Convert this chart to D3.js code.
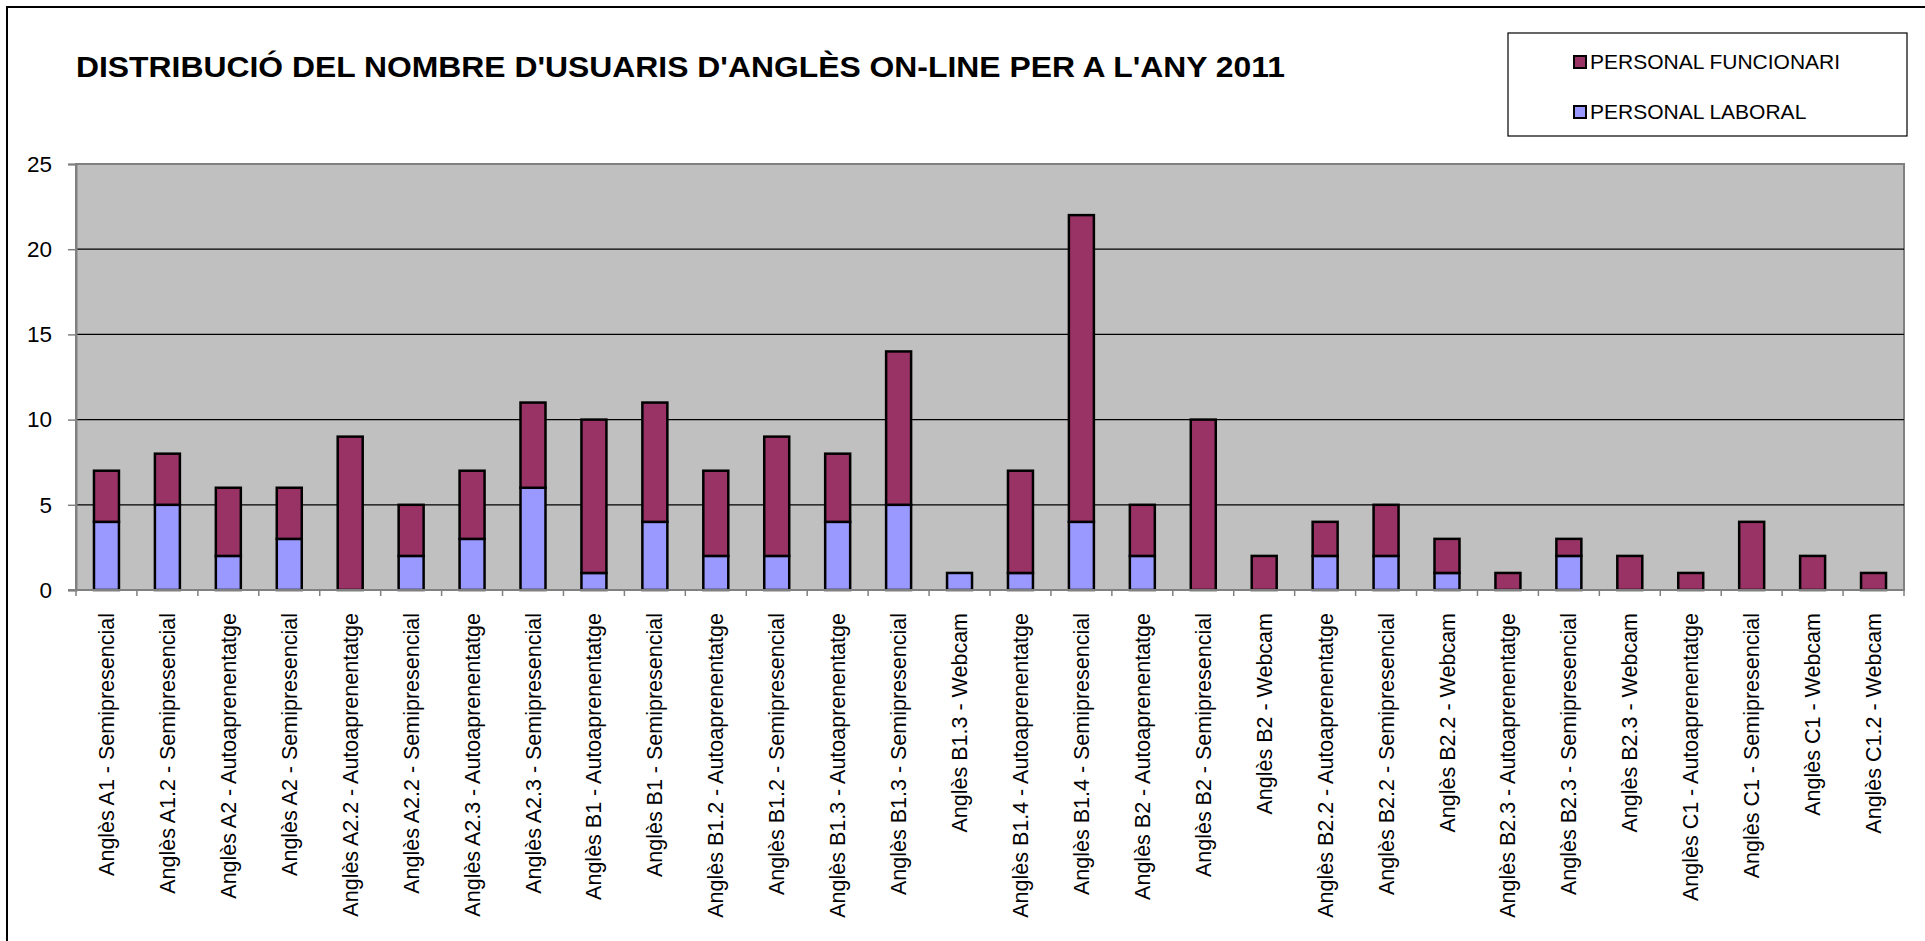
<!DOCTYPE html>
<meta charset="utf-8"/>
<style>
  body { margin: 0; background: #fff; }
  text { font-family: "Liberation Sans", Arial, sans-serif; }
</style>
<svg width="1925" height="941"></svg>
<script src="https://d3js.org/d3.v7.min.js"></script>
<script>

var cursos = [
  "Anglès A1 - Semipresencial", "Anglès A1.2 - Semipresencial", "Anglès A2 - Autoaprenentatge",
  "Anglès A2 - Semipresencial", "Anglès A2.2 - Autoaprenentatge", "Anglès A2.2 - Semipresencial",
  "Anglès A2.3 - Autoaprenentatge", "Anglès A2.3 - Semipresencial", "Anglès B1 - Autoaprenentatge",
  "Anglès B1 - Semipresencial", "Anglès B1.2 - Autoaprenentatge", "Anglès B1.2 - Semipresencial",
  "Anglès B1.3 - Autoaprenentatge", "Anglès B1.3 - Semipresencial", "Anglès B1.3 - Webcam",
  "Anglès B1.4 - Autoaprenentatge", "Anglès B1.4 - Semipresencial", "Anglès B2 - Autoaprenentatge",
  "Anglès B2 - Semipresencial", "Anglès B2 - Webcam", "Anglès B2.2 - Autoaprenentatge",
  "Anglès B2.2 - Semipresencial", "Anglès B2.2 - Webcam", "Anglès B2.3 - Autoaprenentatge",
  "Anglès B2.3 - Semipresencial", "Anglès B2.3 - Webcam", "Anglès C1 - Autoaprenentatge",
  "Anglès C1 - Semipresencial", "Anglès C1 - Webcam", "Anglès C1.2 - Webcam"
];

var laboral    = [4, 5, 2, 3, 0, 2, 3, 6, 1, 4, 2, 2, 4, 5, 1, 1, 4, 2, 0, 0, 2, 2, 1, 0, 2, 0, 0, 0, 0, 0];
var funcionari = [3, 3, 4, 3, 9, 3, 4, 5, 9, 7, 5, 7, 4, 9, 0, 6, 18, 3, 10, 2, 2, 3, 2, 1, 1, 2, 1, 4, 2, 1];

var yTicks = [0, 5, 10, 15, 20, 25];

var series = [
  {key: "laboral", name: "PERSONAL LABORAL", color: "#9999ff"},
  {key: "funcionari", name: "PERSONAL FUNCIONARI", color: "#993366"}
];

var svg = d3.select("svg"),
    plot = {left: 76, right: 1904, top: 164, bottom: 590};

var data = cursos.map(function(c, i) {
  return {curs: c, laboral: laboral[i], funcionari: funcionari[i]};
});

var x = d3.scaleBand()
    .domain(cursos)
    .range([plot.left, plot.right])
    .paddingInner(0.59)
    .paddingOuter(0.295);

var y = d3.scaleLinear()
    .domain([0, 25])
    .range([plot.bottom, plot.top]);

// outer frame (chart area)
svg.append("path")
    .attr("d", "M1925,7H7V941")
    .attr("fill", "none")
    .attr("stroke", "#000")
    .attr("stroke-width", 2);

// title
svg.append("text")
    .attr("x", 76)
    .attr("y", 77)
    .attr("font-size", 29)
    .attr("font-weight", "bold")
    .attr("textLength", 1209)
    .attr("lengthAdjust", "spacingAndGlyphs")
    .text("DISTRIBUCIÓ DEL NOMBRE D'USUARIS D'ANGLÈS ON-LINE PER A L'ANY 2011");

// plot background
svg.append("rect")
    .attr("x", plot.left)
    .attr("y", plot.top)
    .attr("width", plot.right - plot.left)
    .attr("height", plot.bottom - plot.top)
    .attr("fill", "#c0c0c0")
    .attr("stroke", "#808080")
    .attr("stroke-width", 2);

// gridlines
svg.append("g")
  .selectAll("line")
  .data(yTicks.filter(function(d) { return d > 0 && d < 25; }))
  .join("line")
    .attr("x1", plot.left)
    .attr("x2", plot.right)
    .attr("y1", function(d) { return y(d); })
    .attr("y2", function(d) { return y(d); })
    .attr("stroke", "#000")
    .attr("stroke-width", 1.3);

// stacked bars
var stacked = d3.stack().keys(series.map(function(s) { return s.key; }))(data);

svg.append("g")
  .selectAll("g")
  .data(stacked)
  .join("g")
    .attr("fill", function(d, i) { return series[i].color; })
  .selectAll("rect")
  .data(function(d) { return d.filter(function(p) { return p[1] > p[0]; }); })
  .join("rect")
    .attr("x", function(d) { return x(d.data.curs); })
    .attr("y", function(d) { return y(d[1]); })
    .attr("width", x.bandwidth())
    .attr("height", function(d) { return y(d[0]) - y(d[1]); })
    .attr("stroke", "#000")
    .attr("stroke-width", 2.5);

// y axis
var yAxis = svg.append("g")
    .attr("transform", "translate(" + plot.left + ",0)")
    .call(d3.axisLeft(y).tickValues(yTicks).tickSize(8).tickPadding(16));
yAxis.select(".domain").attr("stroke", "#808080").attr("stroke-width", 2);
yAxis.selectAll(".tick line").attr("stroke", "#808080").attr("stroke-width", 1.5);
yAxis.selectAll(".tick text")
    .attr("font-size", 22.5)
    .attr("font-family", "Liberation Sans, Arial, sans-serif")
    .attr("fill", "#000");

// x axis: ticks between categories
var step = x.step();
svg.append("g")
  .selectAll("line")
  .data(d3.range(cursos.length + 1))
  .join("line")
    .attr("x1", function(i) { return plot.left + i * step; })
    .attr("x2", function(i) { return plot.left + i * step; })
    .attr("y1", plot.bottom)
    .attr("y2", plot.bottom + 6)
    .attr("stroke", "#808080")
    .attr("stroke-width", 1.5);

svg.append("line")
    .attr("x1", plot.left - 8)
    .attr("x2", plot.right)
    .attr("y1", plot.bottom)
    .attr("y2", plot.bottom)
    .attr("stroke", "#808080")
    .attr("stroke-width", 2);

svg.append("g")
  .selectAll("text")
  .data(cursos)
  .join("text")
    .attr("transform", function(d) {
      return "translate(" + (x(d) + x.bandwidth() / 2) + ",613) rotate(-90)";
    })
    .attr("dy", "0.35em")
    .attr("text-anchor", "end")
    .attr("font-size", 21.5)
    .text(function(d) { return d; });

// legend
var legend = svg.append("g");
legend.append("rect")
    .attr("x", 1508)
    .attr("y", 33)
    .attr("width", 399)
    .attr("height", 103)
    .attr("fill", "#fff")
    .attr("stroke", "#000")
    .attr("stroke-width", 1.2);

var items = legend.selectAll("g.item")
  .data(series.slice().reverse())
  .join("g")
    .attr("class", "item")
    .attr("transform", function(d, i) { return "translate(1573," + (62 + i * 50) + ")"; });

items.append("rect")
    .attr("x", 1)
    .attr("y", -6)
    .attr("width", 12)
    .attr("height", 12)
    .attr("fill", function(d) { return d.color; })
    .attr("stroke", "#000")
    .attr("stroke-width", 2);

items.append("text")
    .attr("x", 17)
    .attr("dy", "0.35em")
    .attr("font-size", 21)
    .text(function(d) { return d.name; });

</script>
